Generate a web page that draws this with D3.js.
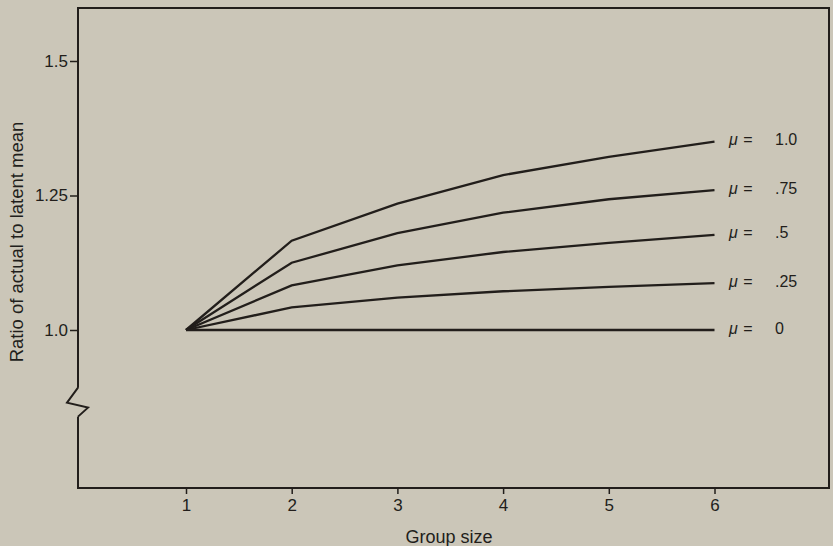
<!DOCTYPE html>
<html>
<head>
<meta charset="utf-8">
<script src="https://cdn.jsdelivr.net/npm/d3@7"></script>
<style>
  body { margin: 0; background: #cbc6b8; }
  svg { display: block; }
  text { font-family: "Liberation Sans", Arial, sans-serif; fill: #221e1b; }
</style>
</head>
<body>
<div id="vis"></div>
<script>
// Data
const groupSizes = [1, 2, 3, 4, 5, 6];
const muLabels = ["1.0", ".75", ".5", ".25", "0"];
const ratioMu100 = [1.0, 1.166, 1.235, 1.288, 1.322, 1.35];
const ratioMu075 = [1.0, 1.125, 1.18, 1.218, 1.243, 1.26];
const ratioMu050 = [1.0, 1.083, 1.12, 1.145, 1.162, 1.177];
const ratioMu025 = [1.0, 1.042, 1.06, 1.072, 1.08, 1.087];
const ratioMu000 = [1.0, 1.0, 1.0, 1.0, 1.0, 1.0];
const yTicks = [1.0, 1.25, 1.5];
const yTickLabels = ["1.0", "1.25", "1.5"];

const series = [ratioMu100, ratioMu075, ratioMu050, ratioMu025, ratioMu000].map((vals, i) => ({
  label: muLabels[i],
  values: vals.map((v, j) => ({ size: groupSizes[j], ratio: v }))
}));

// Basic set up
const W = 833, H = 546;
const frame = { left: 78, right: 829, top: 8, bottom: 488 };
const ink = "#221e1b";
const font = "'Liberation Sans', Arial, sans-serif";

const svg = d3.select("#vis")
  .append("svg")
    .attr("width", W)
    .attr("height", H);

svg.append("rect")
  .attr("width", W)
  .attr("height", H)
  .attr("fill", "#cbc6b8");

// Scales
const x = d3.scaleLinear().domain([1, 6]).range([186, 714.5]);
const y = d3.scaleLinear().domain([1.0, 1.5]).range([330, 61]);

// Frame with the axis break on the left side
const brk = y(0.865);
const framePath = d3.path();
framePath.moveTo(frame.left, brk - 15);
framePath.lineTo(frame.left, frame.top);
framePath.lineTo(frame.right, frame.top);
framePath.lineTo(frame.right, frame.bottom);
framePath.lineTo(frame.left, frame.bottom);
framePath.lineTo(frame.left, brk + 14);
framePath.moveTo(frame.left, brk - 15);
framePath.lineTo(frame.left - 11, brk);
framePath.lineTo(frame.left + 10, brk + 5);
framePath.lineTo(frame.left, brk + 14);

svg.append("path")
  .attr("d", framePath.toString())
  .attr("fill", "none")
  .attr("stroke", ink)
  .attr("stroke-width", 2)
  .attr("stroke-linejoin", "miter");

// Y-Axis ticks
const yAxis = svg.append("g")
  .attr("transform", "translate(" + frame.left + ",0)")
  .call(d3.axisLeft(y)
    .tickValues(yTicks)
    .tickSize(8)
    .tickPadding(2)
    .tickFormat((d, i) => yTickLabels[i]));
yAxis.select(".domain").remove();
yAxis.selectAll("line").attr("stroke", ink).attr("stroke-width", 1.5);
yAxis.selectAll("text")
  .attr("font-size", 17)
  .attr("fill", ink)
  .style("font-family", font);

// X-Axis ticks
const xAxis = svg.append("g")
  .attr("transform", "translate(0," + frame.bottom + ")")
  .call(d3.axisBottom(x)
    .tickValues(groupSizes)
    .tickSize(6)
    .tickPadding(5)
    .tickFormat(d3.format("d")));
xAxis.select(".domain").remove();
xAxis.selectAll("line").attr("stroke", ink).attr("stroke-width", 1.5);
xAxis.selectAll("text")
  .attr("font-size", 17)
  .attr("fill", ink)
  .style("font-family", font);

// Lines
const valueline = d3.line()
  .x(d => x(d.size))
  .y(d => y(d.ratio));

svg.selectAll(".mu-line")
  .data(series)
  .enter().append("path")
    .attr("class", "mu-line")
    .attr("d", d => valueline(d.values))
    .attr("fill", "none")
    .attr("stroke", ink)
    .attr("stroke-width", 2.3)
    .attr("stroke-linejoin", "miter");

// Line labels
const labels = svg.selectAll(".mu-label")
  .data(series)
  .enter().append("g")
    .attr("class", "mu-label")
    .attr("transform", d => "translate(0," + (y(d.values[d.values.length - 1].ratio) - 2) + ")");

labels.append("text")
  .attr("x", 729)
  .attr("dy", "0.35em")
  .attr("font-size", 16)
  .style("font-style", "italic")
  .text("\u03bc");
labels.append("text")
  .attr("x", 748)
  .attr("dy", "0.35em")
  .attr("font-size", 16)
  .style("text-anchor", "middle")
  .text("=");
labels.append("text")
  .attr("x", 775)
  .attr("dy", "0.35em")
  .attr("font-size", 16)
  .text(d => d.label);

// X-Axis Label
svg.append("text")
  .attr("x", 449)
  .attr("y", 537)
  .attr("dy", "0.35em")
  .attr("font-size", 18)
  .style("text-anchor", "middle")
  .text("Group size");

// Y-Axis Label
svg.append("text")
  .attr("transform", "translate(17," + 242 + ") rotate(-90)")
  .attr("dy", "0.35em")
  .attr("font-size", 18.5)
  .style("text-anchor", "middle")
  .text("Ratio of actual to latent mean");
</script>
</body>
</html>
